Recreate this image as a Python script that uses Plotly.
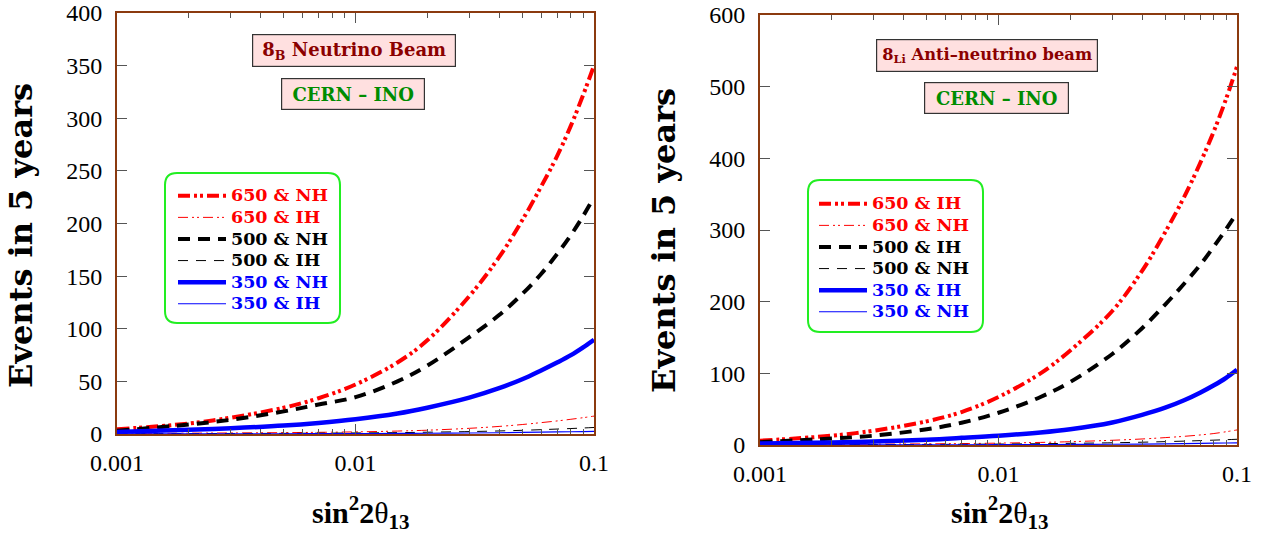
import plotly.graph_objects as go

W, H = 1262, 535

# ---------------- data ----------------
s = [0.001, 0.002, 0.003, 0.005, 0.007, 0.01, 0.015, 0.02, 0.03, 0.04,
     0.05, 0.06, 0.07, 0.08, 0.09, 0.1]

# Left panel: 8B neutrino beam
b_650_nh = [4.5, 10, 15.5, 25, 34, 47, 68, 89, 131, 168, 203, 235, 264, 293, 322, 350]
b_650_ih = [0.5, 0.8, 1.0, 1.3, 1.6, 2.0, 2.8, 3.6, 5.4, 7.2, 9.0, 10.8, 12.4, 14.0, 15.5, 17]
b_500_nh = [3, 9, 13.5, 21.5, 28, 35, 50, 65, 92, 113, 133, 152, 171, 189, 207, 225]
b_500_ih = [0.3, 0.4, 0.5, 0.6, 0.8, 1.0, 1.3, 1.7, 2.3, 2.9, 3.5, 4.1, 4.7, 5.2, 5.7, 6.2]
b_350_nh = [2, 4, 5.5, 8, 10.5, 14, 19.5, 25, 34.5, 43.5, 52, 60.4, 67.9, 74.9, 82.3, 89.5]
b_350_ih = [0.1, 0.15, 0.2, 0.25, 0.3, 0.4, 0.55, 0.7, 0.95, 1.2, 1.45, 1.7, 1.95, 2.15, 2.35, 2.5]

# Right panel: 8Li anti-neutrino beam
l_650_ih = [6, 13, 20, 33, 46, 67, 100, 132, 187, 243, 297, 346, 393, 438, 483, 528]
l_650_nh = [0.5, 0.8, 1.1, 1.6, 2.0, 2.6, 3.6, 4.6, 6.6, 8.4, 10.3, 12.1, 14.0, 16.0, 18.5, 21]
l_500_ih = [4, 9, 13, 22, 31, 45, 67, 88, 127, 163, 196, 225, 251, 277, 301, 324]
l_500_nh = [0.3, 0.5, 0.6, 0.8, 1.0, 1.3, 1.8, 2.3, 3.1, 3.9, 4.7, 5.4, 6.1, 6.8, 7.4, 8]
l_350_ih = [2, 3.5, 5, 7.5, 10, 13, 17.5, 22, 31.5, 42, 52, 62.4, 73, 83.4, 93.8, 105]
l_350_nh = [0.1, 0.15, 0.2, 0.3, 0.35, 0.45, 0.6, 0.75, 1.05, 1.35, 1.6, 1.9, 2.2, 2.5, 2.8, 3]

x_tickvals = [0.001, 0.01, 0.1]
x_ticktext = ["0.001", "0.01", "0.1"]
x_minor = [0.002, 0.003, 0.004, 0.005, 0.006, 0.007, 0.008, 0.009,
           0.02, 0.03, 0.04, 0.05, 0.06, 0.07, 0.08, 0.09]

RED, BLACK, BLUE = "#FF0000", "#000000", "#0000FF"
DASHDOT_THICK = "12px,4px,3px,3px,3px,4px"
DASHDOT_THIN = "10px,4px,2px,3px,2px,4px"

fig = go.Figure()


def name(txt, col):
    return f'<span style="color:{col};font-size:17.5px">{txt}</span>'


def add(xa, ya, leg, y, label, col, width, dash):
    fig.add_trace(go.Scatter(
        x=s, y=y, mode="lines", name=name(label, col),
        line=dict(color=col, width=width, dash=dash, shape="spline"),
        xaxis=xa, yaxis=ya, legend=leg, showlegend=True))


# left panel
add("x", "y", "legend", b_650_nh, "650 &amp; NH", RED, 4, DASHDOT_THICK)
add("x", "y", "legend", b_650_ih, "650 &amp; IH", RED, 1, DASHDOT_THIN)
add("x", "y", "legend", b_500_nh, "500 &amp; NH", BLACK, 4, "12px,8px")
add("x", "y", "legend", b_500_ih, "500 &amp; IH", BLACK, 1, "10px,8px")
add("x", "y", "legend", b_350_nh, "350 &amp; NH", BLUE, 4.5, "solid")
add("x", "y", "legend", b_350_ih, "350 &amp; IH", BLUE, 1.2, "solid")
# right panel
add("x2", "y2", "legend2", l_650_ih, "650 &amp; IH", RED, 4, DASHDOT_THICK)
add("x2", "y2", "legend2", l_650_nh, "650 &amp; NH", RED, 1, DASHDOT_THIN)
add("x2", "y2", "legend2", l_500_ih, "500 &amp; IH", BLACK, 4, "12px,8px")
add("x2", "y2", "legend2", l_500_nh, "500 &amp; NH", BLACK, 1, "10px,8px")
add("x2", "y2", "legend2", l_350_ih, "350 &amp; IH", BLUE, 4.5, "solid")
add("x2", "y2", "legend2", l_350_nh, "350 &amp; NH", BLUE, 1.2, "solid")

AXCOL = "#8B3A0F"
TICKCOL = "#555555"
tickfont = dict(family="Liberation Serif", size=24, color="black")


def px_x(p):
    return p / W


def px_y(p):
    return 1 - p / H


def xaxis(domain, anchor):
    return dict(domain=domain, anchor=anchor, type="log", range=[-3, -1],
                automargin=False,
                tickmode="array", tickvals=x_tickvals, ticktext=x_ticktext,
                ticks="inside", ticklen=10, tickcolor=TICKCOL, tickwidth=1,
                ticklabelstandoff=6,
                minor=dict(tickmode="array", tickvals=x_minor, ticks="inside",
                           ticklen=5, tickcolor=TICKCOL, showgrid=False),
                showline=True, linecolor=AXCOL, linewidth=2, mirror="ticks",
                showgrid=False, zeroline=False, tickfont=tickfont)


def yaxis(domain, anchor, ymax, dt):
    return dict(domain=domain, anchor=anchor, range=[0, ymax], dtick=dt,
                automargin=False,
                ticks="inside", ticklen=10, tickcolor=TICKCOL, tickwidth=1,
                ticklabelstandoff=8,
                showline=True, linecolor=AXCOL, linewidth=2, mirror="ticks",
                showgrid=False, zeroline=False, tickfont=tickfont)


legfont = dict(family="DejaVu Serif", size=14.3, weight="bold")

fig.update_layout(
    width=W, height=H, margin=dict(l=0, r=0, t=0, b=0, autoexpand=False),
    paper_bgcolor="white", plot_bgcolor="white",
    xaxis=xaxis([px_x(117), px_x(594)], "y"),
    yaxis=yaxis([px_y(434), px_y(13)], "x", 400, 50),
    xaxis2=xaxis([px_x(760), px_x(1237)], "y2"),
    yaxis2=yaxis([px_y(445), px_y(15)], "x2", 600, 100),
    legend=dict(x=px_x(173), y=px_y(180), xanchor="left", yanchor="top",
                bgcolor="rgba(0,0,0,0)", borderwidth=0, font=legfont,
                tracegroupgap=0, itemwidth=48),
    legend2=dict(x=px_x(814), y=px_y(188), xanchor="left", yanchor="top",
                 bgcolor="rgba(0,0,0,0)", borderwidth=0, font=legfont,
                 tracegroupgap=0, itemwidth=48),
    showlegend=True,
)


def rounded_rect(x0, y0, x1, y1, r):
    X = px_x
    Y = px_y
    return (f"M {X(x0 + r)} {Y(y0)} L {X(x1 - r)} {Y(y0)} "
            f"Q {X(x1)} {Y(y0)} {X(x1)} {Y(y0 + r)} L {X(x1)} {Y(y1 - r)} "
            f"Q {X(x1)} {Y(y1)} {X(x1 - r)} {Y(y1)} L {X(x0 + r)} {Y(y1)} "
            f"Q {X(x0)} {Y(y1)} {X(x0)} {Y(y1 - r)} L {X(x0)} {Y(y0 + r)} "
            f"Q {X(x0)} {Y(y0)} {X(x0 + r)} {Y(y0)} Z")


for (x0, y0, x1, y1) in [(165, 173, 340, 323), (808, 180, 983, 332)]:
    fig.add_shape(type="path", path=rounded_rect(x0, y0, x1, y1, 12),
                  xref="paper", yref="paper",
                  line=dict(color="#22EE22", width=2), layer="below")

# boxes
DARKRED = "#8B0000"
GREEN = "#008C00"
BOXBG = "#FFE0E0"


def box(cx, cy, text, col, w, h, size):
    fig.add_annotation(x=px_x(cx), y=px_y(cy), xref="paper", yref="paper",
                       text=text, showarrow=False, width=w, height=h,
                       font=dict(family="DejaVu Serif", size=size,
                                 weight="bold", color=col),
                       bgcolor=BOXBG,
                       bordercolor="#333333", borderwidth=1.2, borderpad=2,
                       xanchor="center", yanchor="middle")


box(354, 50.5, "8<sub>B</sub> Neutrino Beam", DARKRED, 198, 27, 18)
box(353, 94, "CERN – INO", GREEN, 138, 26, 18)
box(987, 55, "8<sub>Li</sub> Anti–neutrino beam", DARKRED, 216, 27, 16.3)
box(996.5, 98, "CERN – INO", GREEN, 139, 26, 18)

# axis titles
ytfont = dict(family="DejaVu Serif", size=32, weight="bold", color="black")
xtfont = dict(family="Liberation Serif", size=30, color="black")
for cx, cy in [(21, 236), (664, 241)]:
    fig.add_annotation(x=px_x(cx), y=px_y(cy), xref="paper", yref="paper",
                       text="Events in 5 years", textangle=-90, showarrow=False,
                       font=ytfont, xanchor="center", yanchor="middle")
for cx, cy in [(361, 512), (1000, 512)]:
    fig.add_annotation(x=px_x(cx), y=px_y(cy), xref="paper", yref="paper",
                       text="<b>sin<sup>2</sup>2</b>θ<b><sub>13</sub></b>",
                       showarrow=False, font=xtfont,
                       xanchor="center", yanchor="middle")

fig.write_html("out.html",
               config={"displayModeBar": False, "staticPlot": True},
               post_script="document.body.style.margin='0px';")
